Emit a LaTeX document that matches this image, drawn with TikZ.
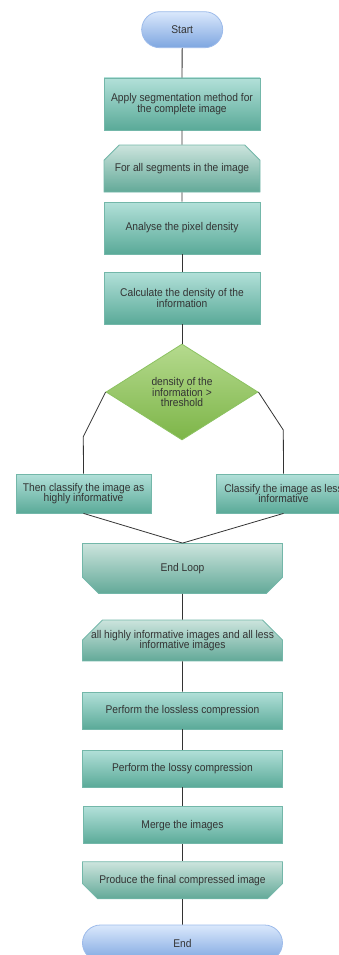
\documentclass[tikz,border=0pt]{standalone}
\usepackage{fontspec}
\setmainfont{Liberation Sans}[FakeStretch=0.915]
\usetikzlibrary{shapes.geometric,shapes.misc,shadings}
\definecolor{txt}{HTML}{333333}
\definecolor{lin}{HTML}{333333}
\definecolor{termtop}{HTML}{DAE8FC}
\definecolor{termbot}{HTML}{7EA6E0}
\definecolor{termbd}{HTML}{9DBBEA}
\definecolor{proctop}{HTML}{B2E0D9}
\definecolor{procbot}{HTML}{5AAA98}
\definecolor{procbd}{HTML}{73B7A9}
\definecolor{looptop}{HTML}{CCE4DD}
\definecolor{loopbot}{HTML}{62A998}
\definecolor{diatop}{HTML}{B5DA8E}
\definecolor{diabot}{HTML}{7DB548}
\definecolor{diabd}{HTML}{8CC261}
\begin{document}
\begin{tikzpicture}[x=1pt,y=-1pt,
  every node/.style={font={\fontsize{11.2}{10.5}\selectfont}, text=txt, align=center, inner sep=0pt},
  term/.style={rectangle, rounded corners=18pt, draw=termbd, line width=0.8pt, top color=termtop, bottom color=termbot, minimum height=36pt},
  proc/.style={rectangle, draw=procbd, line width=0.8pt, top color=proctop, bottom color=procbot},
  loopbox/.style={chamfered rectangle, chamfered rectangle sep=#1, draw=procbd, line width=0.8pt, top color=looptop, bottom color=loopbot},
  looptop/.style={loopbox=10pt, chamfered rectangle corners={north west,north east}},
  loopbottom/.style={loopbox=11pt, chamfered rectangle corners={south west,south east}},
  decide/.style={diamond, draw=diabd, line width=0.8pt, top color=diatop, bottom color=diabot, minimum width=152pt, minimum height=96pt},
  conn/.style={draw=lin, line width=0.8pt}
]
\useasboundingbox (0,0) rectangle (339,955);
\clip (0,0) rectangle (339,955);

\node[term, minimum width=81pt] (start) at (182.2,29.7) {Start};
\node[proc, minimum width=156pt, minimum height=52pt] (b1) at (182,104)
  {\raisebox{4.5pt}{\parbox{154pt}{\centering Apply segmentation method for\\the complete image}}};
\node[looptop, minimum width=156pt, minimum height=47pt] (b2) at (182,168.5) {\makebox[100pt]{For all segments in the image}};
\node[proc, minimum width=156pt, minimum height=52pt] (b3) at (182,228) {Analyse the pixel density};
\node[proc, minimum width=156pt, minimum height=52pt] (b4) at (182,298) {Calculate the density of the\\information};
\node[decide] (dia) at (182,392) {density of the\\information >\\threshold};
\node[proc, minimum width=135pt, minimum height=39pt] (lbox) at (83.5,493.5) {Then classify the image as\\highly informative};
\node[proc, minimum width=135pt, minimum height=39pt] (rbox) at (283.5,493.5) {Classify the image as less\\informative};
\node[loopbottom, minimum width=200pt, minimum height=50pt] (endloop) at (182.5,568.5) {End Loop};
\node[looptop, minimum width=200pt, minimum height=37pt] (allimg) at (182.5,640.5)
  {\makebox[150pt]{\parbox{200pt}{\centering all highly informative images and all less\\informative images}}};
\node[proc, minimum width=200pt, minimum height=37pt] (lossless) at (182.5,710.5) {Perform the lossless compression};
\node[proc, minimum width=200pt, minimum height=37pt] (lossy) at (182.5,768.5) {Perform the lossy compression};
\node[proc, minimum width=199pt, minimum height=37pt] (merge) at (182.5,825.3) {Merge the images};
\node[loopbottom, chamfered rectangle sep=10pt, minimum width=200pt, minimum height=37pt] (produce) at (182.5,880.3) {\makebox[150pt]{Produce the final compressed image}};
\node[term, minimum width=200pt] (end) at (182.5,943) {End};

\coordinate (lbend) at (83.3,436.7);
\coordinate (rbend) at (283.3,430);

\path[conn] (start) -- (b1);
\path[conn] (b1) -- (b2);
\path[conn] (b2) -- (b3);
\path[conn] (b3) -- (b4);
\path[conn] (b4) -- (dia);
\path[conn] (dia.west) -- (lbend) -- (lbox.north);
\path[conn] (dia.east) -- (rbend) -- (rbox.north);
\path[conn] (lbox.south) -- (endloop.north);
\path[conn] (rbox.south) -- (endloop.north);
\path[conn] (endloop) -- (allimg);
\path[conn] (allimg) -- (lossless);
\path[conn] (lossless) -- (lossy);
\path[conn] (lossy) -- (merge);
\path[conn] (merge) -- (produce);
\path[conn] (produce) -- (end);
\end{tikzpicture}
\end{document}
